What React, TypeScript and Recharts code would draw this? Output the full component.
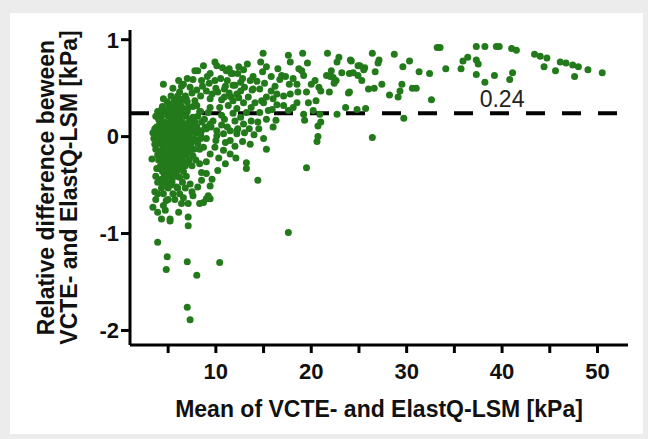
import React from "react";
import {
  ScatterChart, Scatter, XAxis, YAxis, ReferenceLine, ReferenceDot, Label,
} from "recharts";

// Bland-Altman style: mean of VCTE & ElastQ LSM vs relative difference
const meanKpa = [
  // upper spread, 11-25 kPa
  14.95, 14.7, 17.6, 17.8, 19.1, 19.6, 21.7, 22.9, 22.7, 24.1, 24.9, 13.3, 12.9, 12.3, 11.75, 16.9, 16.7, 19.0, 19.2, 21.6,
  22.1, 22.3, 23.2, 24.0, 22.6, 20.4, 20.0, 20.8, 21.0, 21.9, 23.9, 18.5, 18.6, 17.7, 19.5, 19.7, 20.5, 19.2, 20.9, 22.7,
  23.6, 20.7, 20.7, 15.8, 16.4, 17.1, 17.8, 15.3, 16.0, 14.8, 14.1, 13.4, 12.9, 12.2, 11.6, 12.0, 13.0, 13.9, 14.6, 13.6,
  16.4, 17.1, 18.1, 15.5, 14.6, 13.7, 14.4, 15.3, 16.0, 12.9, 12.2, 13.0, 15.0,
  // 24-40 kPa
  33.2, 33.5, 37.3, 38.2, 26.4, 28.7, 27.1, 27.0, 30.3, 29.6, 31.3, 32.4, 34.1, 35.7, 35.9, 36.4, 37.3, 37.5, 37.3, 38.2,
  24.2, 25.1, 25.6, 24.4, 24.9, 25.3, 26.7, 27.4, 29.5, 26.0, 29.3, 29.1, 28.2, 30.6, 31.0, 32.6, 24.0, 24.8, 25.7, 29.7,
  26.4,
  // 39-51 kPa tail
  39.4, 39.7, 41.0, 41.5, 43.4, 44.0, 44.7, 46.1, 46.7, 47.4, 48.0, 49.0, 50.5, 44.4, 45.6, 47.6, 41.1, 40.8, 39.2,
  // 3-13 kPa, upper half
  4.5, 4.5, 9.9, 10.1, 8.1, 9.4, 11.1, 11.6, 7.6, 8.5, 9.9, 6.6, 7.3, 8.0, 6.2, 9.0, 10.2, 10.9, 11.8, 5.9,
  6.9, 7.8, 9.4, 10.9, 11.8, 7.1, 8.0, 9.4, 10.4, 11.3, 12.2, 6.6, 7.6, 8.8, 9.7, 10.9, 12.0, 3.6, 4.1, 5.2,
  6.2, 8.0, 9.0, 10.1, 11.5, 12.3, 4.1,
  // 3-13 kPa, lower half
  3.4, 3.6, 3.3, 3.8, 4.1, 3.6, 3.4, 4.5, 4.8, 4.3, 5.2, 4.7, 5.5, 5.9, 5.4, 6.2, 4.8, 4.5, 5.5, 5.0,
  5.9, 6.6, 7.1, 7.6, 8.3, 9.0, 8.5, 9.0, 7.3, 7.5, 6.6, 7.6, 9.2, 9.4, 8.7, 7.1, 7.1, 7.1, 5.2, 10.1,
  10.8, 11.5, 12.2, 9.9, 10.8, 11.5, 9.4, 8.7, 8.0, 8.5, 9.5, 9.0,
  // outliers
  13.2, 13.2, 14.4, 19.5, 17.6, 3.9, 4.9, 4.8, 7.0, 10.4, 8.0, 7.0, 7.3, 9.4, 6.4, 8.3, 9.0,
  21.0, 20.6, 15.3, 16.3, 17.6, 18.5, 19.3, 20.2,
  // dense core
  5.3, 6.0, 6.8, 4.9, 5.6, 6.3, 7.0, 4.4, 5.1, 5.8, 6.4, 7.6, 3.9, 4.6, 5.3, 6.0, 7.0, 8.3, 3.7, 4.3,
  5.0, 5.7, 6.3, 6.9, 8.1, 4.6, 5.6, 6.5, 7.2, 7.8, 8.5, 3.8, 4.4, 5.0, 5.8, 6.4, 7.0, 7.6, 8.9, 4.0,
  4.7, 5.4, 6.0, 6.6, 7.3, 7.9, 3.5, 4.6, 5.2, 5.8, 6.5, 7.1, 7.7, 8.4, 4.1, 4.8, 5.4, 6.1, 6.8, 7.4,
  8.1, 3.7, 4.4, 5.6, 6.2, 7.0, 7.7, 8.3, 3.9, 4.2, 4.9, 5.3, 6.3, 6.9, 4.0, 5.1, 5.8, 6.5, 7.2, 7.9,
  4.2, 4.9, 5.1, 6.1, 6.8, 7.5, 4.4, 5.3, 5.9, 6.6, 3.7, 4.6, 5.1, 5.8, 6.9, 3.9, 4.8, 6.5, 4.3, 5.0,
  6.0, 6.8, 3.9, 4.5, 6.2, 3.7, 5.0, 5.7, 3.9, 6.1,
  5.9, 6.6, 5.4, 6.1, 4.3, 5.0, 5.6, 6.7, 4.0, 5.3, 6.0, 7.5, 4.7, 5.3, 6.1, 6.7, 7.3, 4.3, 5.1, 5.7,
  6.3, 6.9, 7.6, 3.8, 4.4, 5.0, 5.7, 6.3, 7.0, 3.9, 4.4, 5.1, 5.7, 6.4, 7.1, 7.8, 4.5, 5.1, 5.8, 6.5,
  7.2, 4.1, 4.7, 5.6, 6.0, 6.6, 7.3, 4.5, 5.6, 6.1, 4.6, 5.4, 6.4, 7.0, 4.0, 4.7, 5.7, 6.3, 4.9, 5.6,
  4.3, 5.4, 4.5, 5.3,
  // 8-19 kPa fill
  8.6, 9.3, 10.5, 11.2, 12.6, 10.0, 11.4, 12.6, 8.4, 9.6, 10.6, 12.4, 13.7, 13.2, 11.8, 10.6, 9.2, 8.4, 9.4, 10.6,
  11.2, 12.6, 13.5, 14.0, 13.6, 12.8, 12.0, 11.0, 10.3, 11.0, 12.1, 10.2, 9.6, 8.1, 8.5, 10.0, 8.4, 7.5, 6.4, 5.5,
  7.0, 6.1, 8.7, 9.1, 10.7, 7.8, 11.0, 12.8, 13.9, 14.3, 15.1, 15.8, 16.2, 15.0, 15.9, 14.5, 13.8, 14.9, 15.3, 16.5,
  17.3, 18.1, 18.7, 11.4, 12.4, 22.4, 22.0, 25.5, 26.6,
];

const relDiff = [
  0.86, 0.77, 0.84, 0.77, 0.86, 0.76, 0.86, 0.82, 0.77, 0.79, 0.73, 0.75, 0.69, 0.65, 0.65, 0.63, 0.59, 0.68, 0.63, 0.63,
  0.68, 0.61, 0.66, 0.65, 0.58, 0.58, 0.54, 0.51, 0.47, 0.46, 0.45, 0.54, 0.46, 0.54, 0.46, 0.35, 0.37, 0.23, 0.23, 0.23,
  0.30, 0.11, 0.0, 0.47, 0.44, 0.42, 0.44, 0.41, 0.39, 0.37, 0.35, 0.41, 0.35, 0.44, 0.41, 0.53, 0.51, 0.49, 0.49, 0.58,
  0.33, 0.32, 0.30, 0.27, 0.25, 0.16, 0.15, 0.18, 0.10, 0.13, 0.06, 0.04, -0.02,
  0.92, 0.92, 0.93, 0.93, 0.86, 0.85, 0.79, 0.76, 0.78, 0.72, 0.67, 0.65, 0.70, 0.70, 0.78, 0.82, 0.79, 0.75, 0.64, 0.56,
  0.78, 0.73, 0.71, 0.66, 0.63, 0.58, 0.67, 0.54, 0.54, 0.49, 0.47, 0.41, 0.43, 0.50, 0.50, 0.38, 0.46, 0.28, 0.29, 0.19,
  -0.01,
  0.93, 0.93, 0.91, 0.89, 0.85, 0.83, 0.81, 0.77, 0.76, 0.74, 0.72, 0.69, 0.66, 0.72, 0.68, 0.62, 0.66, 0.59, 0.63,
  0.54, 0.39, 0.77, 0.73, 0.68, 0.65, 0.68, 0.65, 0.59, 0.58, 0.58, 0.54, 0.51, 0.48, 0.46, 0.47, 0.46, 0.49, 0.53, 0.37,
  0.39, 0.37, 0.39, 0.41, 0.37, 0.30, 0.32, 0.30, 0.30, 0.32, 0.29, 0.25, 0.20, 0.18, 0.16, 0.18, 0.16, 0.08, 0.13, 0.15,
  0.16, 0.10, 0.08, 0.06, 0.06, 0.08, -0.01,
  0.04, -0.08, -0.23, -0.33, -0.45, -0.57, -0.73, -0.71, -0.66, -0.85, -0.85, -0.76, -0.59, -0.52, -0.47, -0.42, -0.35, -0.25, -0.28, -0.16,
  -0.18, -0.14, -0.09, -0.20, -0.28, -0.26, -0.37, -0.38, -0.49, -0.57, -0.63, -0.61, -0.61, -0.64, -0.68, -0.69, -0.83, -0.92, -0.87, 0.01,
  0.03, -0.04, 0.03, -0.11, -0.14, -0.18, -0.18, -0.11, -0.04, 0.06, 0.10, -0.02,
  -0.27, -0.33, -0.45, -0.32, -0.99, -1.09, -1.24, -1.37, -1.29, -1.30, -1.43, -1.76, -1.89, -0.51, -0.69, -0.69, -0.64,
  0.15, -0.05, -0.13, 0.17, 0.27, 0.35, 0.17, 0.27,
  0.42, 0.42, 0.42, 0.36, 0.36, 0.36, 0.36, 0.31, 0.31, 0.31, 0.31, 0.31, 0.26, 0.26, 0.26, 0.26, 0.26, 0.26, 0.21, 0.21,
  0.21, 0.21, 0.21, 0.21, 0.21, 0.15, 0.15, 0.15, 0.15, 0.15, 0.15, 0.10, 0.10, 0.10, 0.10, 0.10, 0.10, 0.10, 0.10, 0.04,
  0.04, 0.04, 0.04, 0.04, 0.04, 0.04, -0.02, -0.02, -0.02, -0.02, -0.02, -0.02, -0.02, -0.02, -0.07, -0.07, -0.07, -0.07, -0.07, -0.07,
  -0.07, -0.13, -0.13, -0.13, -0.13, -0.13, -0.13, -0.13, -0.19, -0.19, -0.19, -0.19, -0.19, -0.19, -0.24, -0.24, -0.24, -0.24, -0.24, -0.24,
  -0.30, -0.30, -0.30, -0.30, -0.30, -0.30, -0.36, -0.36, -0.36, -0.36, -0.41, -0.41, -0.41, -0.41, -0.41, -0.47, -0.47, -0.47, -0.53, -0.53,
  -0.53, -0.53, -0.59, -0.59, -0.59, -0.65, -0.65, -0.65, -0.78, -0.78,
  0.39, 0.39, 0.33, 0.33, 0.28, 0.28, 0.28, 0.28, 0.18, 0.18, 0.18, 0.18, 0.12, 0.12, 0.12, 0.12, 0.12, 0.07, 0.07, 0.07,
  0.07, 0.07, 0.07, 0.01, 0.01, 0.01, 0.01, 0.01, 0.01, -0.04, -0.04, -0.04, -0.04, -0.04, -0.04, -0.04, -0.10, -0.10, -0.10, -0.10,
  -0.10, -0.16, -0.16, -0.16, -0.16, -0.16, -0.16, -0.21, -0.21, -0.21, -0.27, -0.27, -0.27, -0.27, -0.33, -0.33, -0.33, -0.33, -0.39, -0.39,
  -0.44, -0.44, -0.50, -0.50,
  0.52, 0.55, 0.60, 0.58, 0.56, 0.50, 0.45, 0.47, 0.42, 0.44, 0.38, 0.40, 0.30, 0.25, 0.24, 0.22, 0.25, 0.26, 0.13, 0.12,
  0.10, 0.20, 0.08, 0.02, -0.08, -0.05, -0.10, -0.06, -0.22, -0.28, -0.22, -0.35, -0.44, -0.52, -0.45, -0.04, 0.02, 0.45, 0.52, 0.50,
  0.60, 0.58, 0.73, 0.62, 0.71, 0.68, 0.52, 0.60, 0.62, 0.57, 0.55, 0.62, 0.52, 0.35, 0.28, 0.08, 0.48, 0.67, 0.72, 0.70,
  0.62, 0.60, 0.70, 0.70, 0.72, 0.55, 0.62, 0.69, 0.50,
];

const meanLine = 0.24;
const xTicks = [5, 10, 15, 20, 25, 30, 35, 40, 45, 50];
const yTicks = [-2, -1, 0, 1];

const points = meanKpa.map((x, i) => ({ x, y: relDiff[i] }));

const DOT = "#237a1a";
const FONT = "'Liberation Sans', Arial, sans-serif";

const YTitle = (props: any) => {
  const vb = props.viewBox;
  const cy = vb.y + vb.height / 2;
  const x1 = vb.x - 14;
  const x2 = vb.x + 9;
  const style = { fontFamily: FONT, fontSize: 23, fontWeight: 700, fill: "#111" };
  return (
    <g>
      <text x={x1} y={cy} transform={`rotate(-90, ${x1}, ${cy})`} textAnchor="middle" dominantBaseline="central" style={style}>
        Relative difference beween
      </text>
      <text x={x2} y={cy} transform={`rotate(-90, ${x2}, ${cy})`} textAnchor="middle" dominantBaseline="central" style={style}>
        VCTE- and ElastQ-LSM [kPa]
      </text>
    </g>
  );
};

export default function App() {
  const tickStyle = { fontFamily: FONT, fontSize: 22, fontWeight: 700, fill: "#111" };
  return (
    <div style={{ position: "absolute", left: 0, top: 0, width: 648, height: 439, background: "#ececec" }}>
      <div style={{ position: "absolute", left: 10, top: 13, width: 633, height: 421, background: "#fff" }} />
      <div style={{ position: "absolute", left: 0, top: 0 }}>
        <ScatterChart width={648} height={439} margin={{ top: 30, right: 20, bottom: 14, left: 60 }}>
          <XAxis
            type="number" dataKey="x" domain={[1, 53.2]} ticks={xTicks} allowDataOverflow
            tickFormatter={(v: number) => (v % 10 === 0 ? String(v) : "")}
            height={80} tickSize={8} tickMargin={10}
            axisLine={{ stroke: "#000", strokeWidth: 3 }}
            tickLine={{ stroke: "#000", strokeWidth: 3 }}
            tick={tickStyle}
          >
            <Label value="Mean of VCTE- and ElastQ-LSM [kPa]" position="insideBottom" offset={8}
              style={{ fontFamily: FONT, fontSize: 23, fontWeight: 700, fill: "#111" }} />
          </XAxis>
          <YAxis
            type="number" dataKey="y" domain={[-2.15, 1.1]} ticks={yTicks} allowDataOverflow
            width={70} tickSize={9} tickMargin={2}
            axisLine={{ stroke: "#000", strokeWidth: 3 }}
            tickLine={{ stroke: "#000", strokeWidth: 3 }}
            tick={tickStyle}
          >
            <Label content={YTitle} />
          </YAxis>
          <Scatter
            data={points}
            isAnimationActive={false}
            shape={(p: any) => <circle cx={p.cx} cy={p.cy} r={3.5} fill={DOT} />}
          />
          <ReferenceLine y={meanLine} stroke="#000" strokeWidth={4} strokeDasharray="19 17" ifOverflow="visible" />
          <ReferenceDot x={40} y={meanLine} r={0} fill="none" stroke="none"
            label={{ value: "0.24", position: "top", offset: 6, style: { fontFamily: FONT, fontSize: 23, fill: "#222" } }} />
        </ScatterChart>
      </div>
    </div>
  );
}
